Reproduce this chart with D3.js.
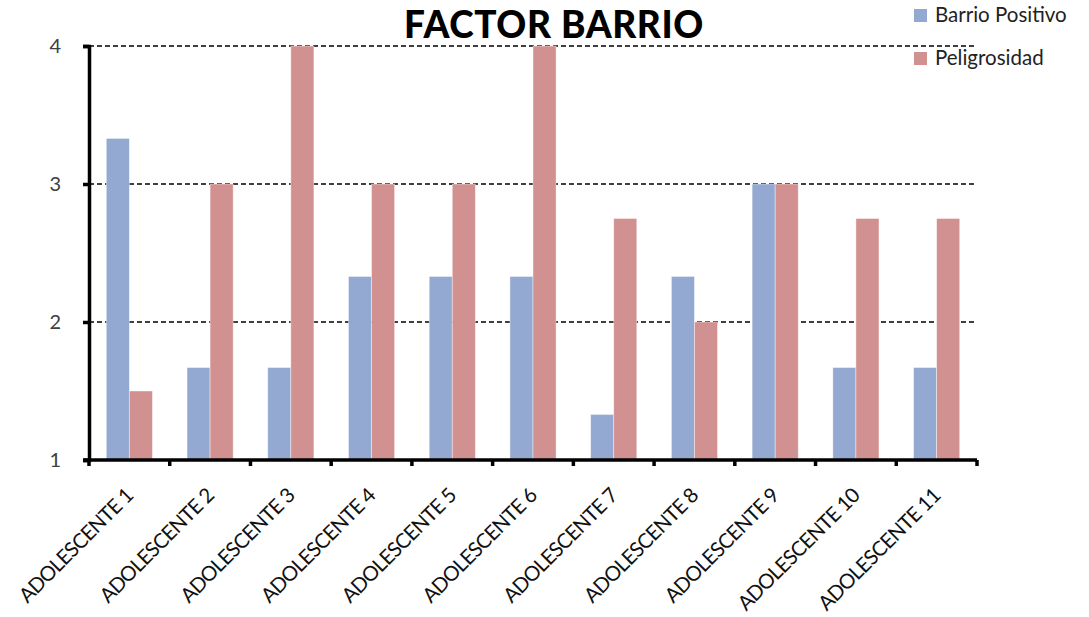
<!DOCTYPE html>
<html>
<head>
<meta charset="utf-8">
<script src="https://cdn.jsdelivr.net/npm/d3@7"></script>
<style>
  html, body { margin: 0; padding: 0; background: #fff; }
  svg { display: block; font-family: Lato, "Open Sans", sans-serif; }
</style>
</head>
<body>
<svg id="chart" width="1089" height="617"></svg>
<script>
// Chart data
const categories = ["ADOLESCENTE 1", "ADOLESCENTE 2", "ADOLESCENTE 3", "ADOLESCENTE 4",
  "ADOLESCENTE 5", "ADOLESCENTE 6", "ADOLESCENTE 7", "ADOLESCENTE 8",
  "ADOLESCENTE 9", "ADOLESCENTE 10", "ADOLESCENTE 11"];
const seriesNames = ["Barrio Positivo", "Peligrosidad"];
const barrioPositivo = [3.33, 1.67, 1.67, 2.33, 2.33, 2.33, 1.33, 2.33, 3, 1.67, 1.67];
const peligrosidad = [1.5, 3, 4, 3, 3, 4, 2.75, 2, 3, 2.75, 2.75];
const yTicks = [1, 2, 3, 4];
const colors = ["#94A9D1", "#D19190"];

const svg = d3.select("#chart");
const margin = { left: 89, right: 112, top: 46, bottom: 157 };
const W = 1089, H = 617;
const x0 = margin.left, x1 = W - margin.right;
const yTop = margin.top, yBot = H - margin.bottom;

const x = d3.scaleBand().domain(categories).range([x0, x1]).paddingInner(0).paddingOuter(0);
const inner = d3.scaleBand().domain(seriesNames).range([0, x.bandwidth()]).paddingInner(0).paddingOuter(0.75);
const y = d3.scaleLinear().domain([1, 4]).range([yBot, yTop]);

// Gridlines
svg.append("g").selectAll("line")
  .data(yTicks.filter(t => t > 1))
  .join("line")
  .attr("x1", x0).attr("x2", x1)
  .attr("y1", d => y(d)).attr("y2", d => y(d))
  .attr("stroke", "#000").attr("stroke-width", 1.3)
  .attr("stroke-dasharray", "5,3");

// Bars
const rows = categories.map((c, i) => ({ c, vals: [barrioPositivo[i], peligrosidad[i]] }));
const groups = svg.append("g").selectAll("g")
  .data(rows).join("g")
  .attr("transform", d => `translate(${x(d.c)},0)`);
groups.selectAll("rect")
  .data(d => d.vals.map((v, k) => ({ v, k })))
  .join("rect")
  .attr("x", d => inner(seriesNames[d.k]))
  .attr("width", inner.bandwidth())
  .attr("y", d => y(d.v))
  .attr("height", d => y(1) - y(d.v))
  .attr("fill", d => colors[d.k])
  .attr("stroke", "#ffffff").attr("stroke-opacity", 0.5).attr("stroke-width", 0.8);

// Y axis
const yAxis = d3.axisLeft(y).tickValues(yTicks).tickFormat(d3.format("d")).tickSize(6).tickPadding(22);
const gy = svg.append("g").attr("transform", `translate(${x0},0)`).call(yAxis);
gy.select(".domain").attr("stroke", "#000").attr("stroke-width", 3.5);
gy.selectAll(".tick line").attr("stroke", "#000").attr("stroke-width", 3.5);
gy.selectAll(".tick text").attr("font-size", 20).attr("fill", "#404040")
  .attr("font-family", "Lato, sans-serif");

// X axis
const boundaries = categories.map(c => x(c)).concat([x1]);
svg.append("line").attr("x1", x0 - 6).attr("x2", x1)
  .attr("y1", yBot).attr("y2", yBot)
  .attr("stroke", "#000").attr("stroke-width", 3.5);
svg.append("g").selectAll("line").data(boundaries).join("line")
  .attr("x1", d => d).attr("x2", d => d)
  .attr("y1", yBot).attr("y2", yBot + 6)
  .attr("stroke", "#000").attr("stroke-width", 3.5);
svg.append("g").selectAll("text").data(categories).join("text")
  .attr("transform", d => `translate(${x(d) + x.bandwidth() / 2 + 5},${yBot + 37}) rotate(-45)`)
  .attr("text-anchor", "end")
  .attr("font-size", 20.5)
  .attr("fill", "#111")
  .attr("letter-spacing", -0.8)
  .text(d => d);

// Title
svg.append("text")
  .attr("x", 554).attr("y", 38)
  .attr("text-anchor", "middle")
  .attr("font-size", 37).attr("font-weight", 900)
  .attr("fill", "#000")
  .attr("letter-spacing", 0.6)
  .text("FACTOR BARRIO");

// Legend
const legend = svg.append("g").selectAll("g").data(seriesNames).join("g")
  .attr("transform", (d, i) => `translate(914,${9 + i * 43})`);
legend.append("rect").attr("width", 13).attr("height", 13).attr("fill", (d, i) => colors[i]);
legend.append("text").attr("x", 21).attr("y", 13)
  .attr("font-size", 20.5).attr("fill", "#222").text(d => d);
</script>
</body>
</html>
